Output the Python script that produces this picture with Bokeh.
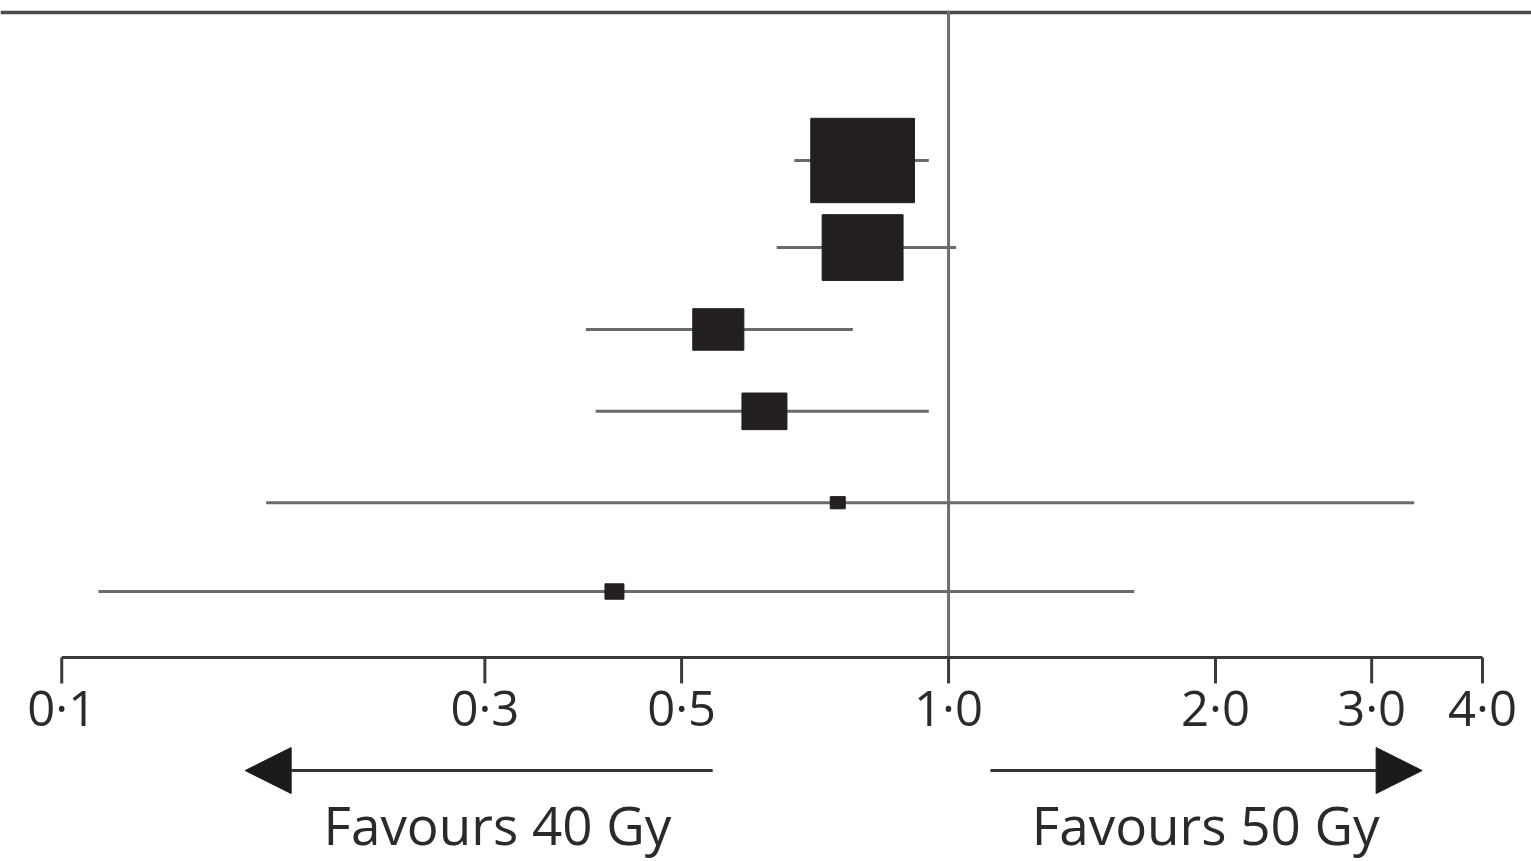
from bokeh.plotting import figure
from bokeh.models import Range1d, Arrow, NormalHead, ColumnDataSource
from bokeh.core.properties import value
from bokeh.embed import file_html
from bokeh.resources import INLINE
import numpy as np

# Hazard ratios (point estimate, 95% CI) and relative weight of each row
estimate = [0.80, 0.80, 0.55, 0.62, 0.75, 0.42]
ci_low = [0.67, 0.64, 0.39, 0.40, 0.17, 0.11]
ci_high = [0.95, 1.02, 0.78, 0.95, 3.35, 1.62]
weight = [47.8, 29.1, 11.6, 9.0, 1.0, 1.6]

# Axis ticks
tick_values = [0.1, 0.3, 0.5, 1.0, 2.0, 3.0, 4.0]
tick_labels = ["0·1", "0·3", "0·5", "1·0", "2·0", "3·0", "4·0"]

# Direction labels under the axis
favour_labels = ["Favours 40 Gy", "Favours 50 Gy"]

# ---- layout (row units on the vertical scale, top to bottom) ----
row_pos = [1.0, 2.01, 2.96, 3.91, 4.97, 6.0]
top_rule_y = -0.717
axis_y = 6.766
tick_len = 0.30
tick_label_y = 7.345
arrow_y = 8.077
favour_y = 8.70
left_arrow = (0.542, 0.161)
right_arrow = (1.115, 3.42)
favour_x = [0.31, 1.95]

FONT = value("Open Sans")
INK = "#2a2a2a"

p = figure(width=1531, height=861, x_axis_type="log",
           x_range=Range1d(0.0853, 4.543), y_range=Range1d(9.132, -0.856),
           x_axis_location=None, y_axis_location=None,
           toolbar_location=None, output_backend="svg", min_border=0)
p.grid.visible = False
p.outline_line_color = None
p.background_fill_color = "white"
p.border_fill_color = "white"

# horizontal rule across the top
p.segment(x0=[0.0853], x1=[4.543], y0=[top_rule_y], y1=[top_rule_y],
          line_color="#4a4a4a", line_width=3.5)

# line of no effect
p.segment(x0=[1.0], x1=[1.0], y0=[top_rule_y - 0.02], y1=[axis_y],
          line_color="#6e6e6e", line_width=3)

# confidence intervals
src = ColumnDataSource(dict(
    est=estimate, lo=ci_low, hi=ci_high, y=row_pos,
    w=[15.0 * np.sqrt(v) for v in weight],
    h=[12.2 * np.sqrt(v) for v in weight],
))
p.segment(x0="lo", x1="hi", y0="y", y1="y", source=src,
          line_color="#6a6a6a", line_width=3)

# point estimates, area proportional to weight
p.rect(x="est", y="y", width="w", height="h", source=src,
       width_units="screen", height_units="screen",
       fill_color="#231f20", line_color="#231f20")

# x axis: line, ticks, labels
p.segment(x0=[tick_values[0]], x1=[tick_values[-1]], y0=[axis_y], y1=[axis_y],
          line_color="#3a3a3a", line_width=3)
p.segment(x0=tick_values, x1=tick_values,
          y0=[axis_y] * len(tick_values), y1=[axis_y + tick_len] * len(tick_values),
          line_color="#3a3a3a", line_width=3)
p.text(x=tick_values, y=[tick_label_y] * len(tick_values), text=tick_labels,
       text_font=FONT, text_font_size="49px", text_color=INK,
       text_align="center", text_baseline="alphabetic")

# direction arrows
for x0, x1 in (left_arrow, right_arrow):
    p.add_layout(Arrow(x_start=x0, y_start=arrow_y, x_end=x1, y_end=arrow_y,
                       line_color="#333333", line_width=3,
                       end=NormalHead(size=46, fill_color="#1a1a1a",
                                      line_color="#1a1a1a", line_width=1)))

p.text(x=favour_x, y=[favour_y] * 2, text=favour_labels,
       text_font=FONT, text_font_size="53px", text_color=INK,
       text_align="center", text_baseline="alphabetic")

open("out.html", "w").write(file_html(p, INLINE))
